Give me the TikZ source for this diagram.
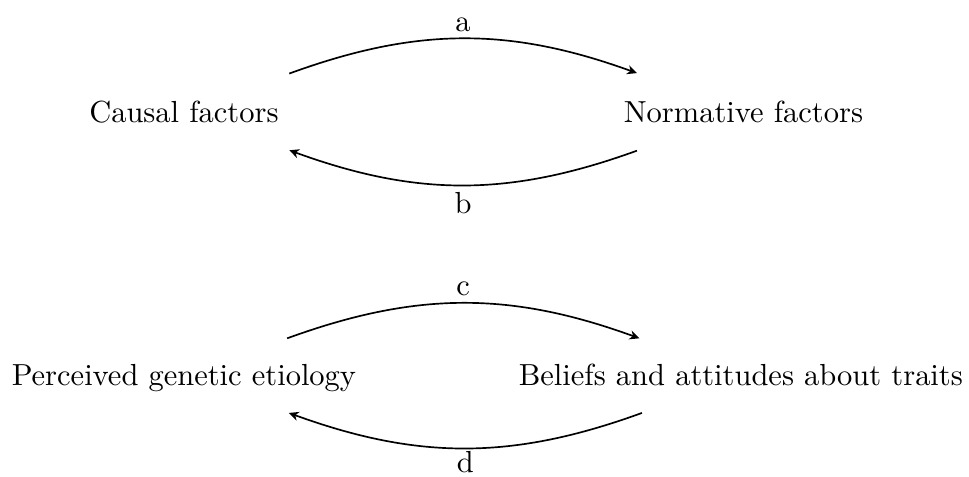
\documentclass[tikz,border=0pt]{standalone}
\usepackage{amsmath,amssymb}
\usepackage{tikz}
\usetikzlibrary{positioning,calc,arrows.meta}

\begin{document}
\begin{tikzpicture}[
    factor/.style={
        minimum height=0.88cm,
        align=center
    },
    label/.style={
        inner sep=2pt
    },
    link/.style={
        -{Stealth[length=3.2pt,width=3pt,inset=1pt]},
        line width=0.55pt
    }
]
\useasboundingbox (0,0) rectangle (11.17,-5.49);

% first pair
\node[factor] (causal) at (2.12,-1.29) {Causal factors};
\node[factor] (normative) at (8.57,-1.29) {Normative factors};

\draw[link] (causal) to[bend left=20] node[label,above] {a} (normative);
\draw[link] (normative) to[bend left=20] node[label,below] {b} (causal);

% second pair
\node[anchor=base] (perceived) at (2.12,-4.44) {Perceived genetic etiology};
\node[anchor=base] (beliefs) at (8.54,-4.44) {Beliefs and attitudes about traits};

\draw[link] ($(perceived.base)+(1.19,0.54)$) to[bend left=20] node[label,above] {c} ($(beliefs.base)+(-1.17,0.54)$);
\draw[link] ($(beliefs.base)+(-1.14,-0.32)$) to[bend left=20] node[label,below,inner sep=0.9pt] {d} ($(perceived.base)+(1.21,-0.32)$);

\end{tikzpicture}
\end{document}
